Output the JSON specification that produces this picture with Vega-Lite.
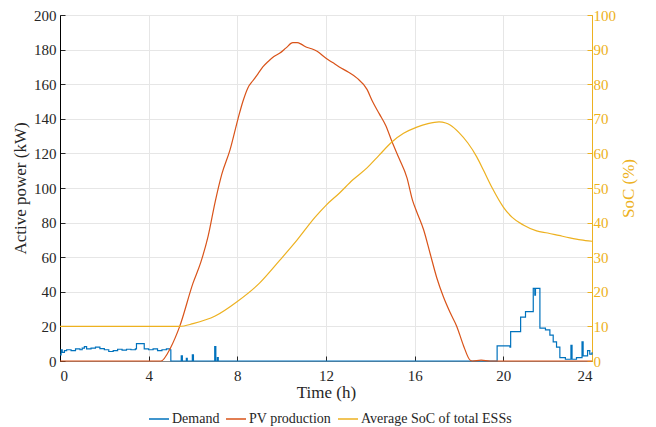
{
  "$schema": "https://vega.github.io/schema/vega-lite/v6.json",
  "autosize": {"type": "none"},
  "padding": {"left": 60, "top": 15, "right": 64, "bottom": 66},
  "width": 532,
  "height": 346,
  "background": "white",
  "config": {
    "font": "Liberation Serif",
    "style": {"guide-label": {"font": "Liberation Serif"}, "guide-title": {"font": "Liberation Serif"}},
    "view": {"stroke": "#262626", "strokeWidth": 1},
    "axis": {"labelFont": "Liberation Serif", "titleFont": "Liberation Serif", "labelFontSize": 15, "titleFontSize": 17, "titleFontWeight": "normal", "labelColor": "#262626", "titleColor": "#262626", "gridColor": "#e6e6e6", "gridWidth": 1, "tickSize": -5, "tickColor": "#262626", "labelOverlap": false},
    "legend": {"labelFont": "Liberation Serif", "labelFontSize": 14, "labelColor": "#262626"}
  },
  "datasets": {
    "demand": [
      {"t": 0, "value": 3.5}, {"t": 0.05, "value": 6.5}, {"t": 0.1, "value": 5}, {"t": 0.2, "value": 6}, {"t": 0.3, "value": 6.5}, {"t": 0.5, "value": 6}, {"t": 0.7, "value": 7}, {"t": 0.9, "value": 6.5}, {"t": 1.0, "value": 7.5}, {"t": 1.1, "value": 8.3}, {"t": 1.2, "value": 7}, {"t": 1.4, "value": 7.5}, {"t": 1.6, "value": 8}, {"t": 1.8, "value": 7.2}, {"t": 2.0, "value": 6.5}, {"t": 2.2, "value": 5.5}, {"t": 2.4, "value": 6}, {"t": 2.6, "value": 6.8}, {"t": 2.8, "value": 6.3}, {"t": 3.0, "value": 6.8}, {"t": 3.2, "value": 6.5}, {"t": 3.4, "value": 7}, {"t": 3.45, "value": 10}, {"t": 3.8, "value": 7}, {"t": 4.0, "value": 6.5}, {"t": 4.2, "value": 7}, {"t": 4.4, "value": 6}, {"t": 4.6, "value": 6.5}, {"t": 4.8, "value": 7}, {"t": 4.95, "value": 6.5},
      {"t": 5.0, "value": 0}, {"t": 5.47, "value": 3}, {"t": 5.52, "value": 0}, {"t": 5.7, "value": 1.5}, {"t": 5.74, "value": 0}, {"t": 5.97, "value": 3.5}, {"t": 6.02, "value": 0}, {"t": 6.98, "value": 8.3}, {"t": 7.03, "value": 0}, {"t": 7.1, "value": 2}, {"t": 7.14, "value": 0},
      {"t": 19.72, "value": 8.8}, {"t": 20.3, "value": 8}, {"t": 20.33, "value": 17}, {"t": 20.78, "value": 25.4}, {"t": 21.0, "value": 28.5}, {"t": 21.35, "value": 42}, {"t": 21.42, "value": 38}, {"t": 21.45, "value": 42}, {"t": 21.65, "value": 19}, {"t": 21.9, "value": 18}, {"t": 22.1, "value": 15}, {"t": 22.25, "value": 11}, {"t": 22.4, "value": 8}, {"t": 22.55, "value": 2}, {"t": 22.8, "value": 1}, {"t": 23.05, "value": 9}, {"t": 23.1, "value": 1}, {"t": 23.3, "value": 2}, {"t": 23.55, "value": 11}, {"t": 23.6, "value": 3}, {"t": 23.8, "value": 6}, {"t": 23.9, "value": 4}, {"t": 24, "value": 5}
    ],
    "pv": [
      {"t": 0, "value": 0}, {"t": 4.55, "value": 0}, {"t": 5.0, "value": 8}, {"t": 5.4, "value": 20}, {"t": 6.0, "value": 45}, {"t": 6.35, "value": 57}, {"t": 6.68, "value": 72}, {"t": 7.0, "value": 92}, {"t": 7.3, "value": 108}, {"t": 7.67, "value": 122}, {"t": 8.03, "value": 140}, {"t": 8.25, "value": 150}, {"t": 8.48, "value": 158}, {"t": 8.7, "value": 162}, {"t": 8.93, "value": 166}, {"t": 9.15, "value": 170}, {"t": 9.38, "value": 173}, {"t": 9.65, "value": 176}, {"t": 9.92, "value": 178}, {"t": 10.2, "value": 181}, {"t": 10.5, "value": 184}, {"t": 10.7, "value": 184}, {"t": 10.9, "value": 183}, {"t": 11.1, "value": 181.5}, {"t": 11.35, "value": 180.5}, {"t": 11.6, "value": 179}, {"t": 12.0, "value": 175}, {"t": 12.3, "value": 172.5}, {"t": 12.6, "value": 170}, {"t": 13.0, "value": 167}, {"t": 13.4, "value": 163.5}, {"t": 13.85, "value": 157}, {"t": 14.1, "value": 150}, {"t": 14.4, "value": 143}, {"t": 14.7, "value": 136}, {"t": 14.97, "value": 127}, {"t": 15.3, "value": 117}, {"t": 15.65, "value": 106}, {"t": 15.9, "value": 93}, {"t": 16.1, "value": 86}, {"t": 16.4, "value": 76}, {"t": 16.7, "value": 62}, {"t": 17.0, "value": 48}, {"t": 17.3, "value": 37}, {"t": 17.6, "value": 28}, {"t": 17.9, "value": 20}, {"t": 18.2, "value": 9}, {"t": 18.5, "value": 0.5}, {"t": 18.6, "value": 0}, {"t": 19.0, "value": 0.5}, {"t": 19.4, "value": 0}, {"t": 24, "value": 0}
    ],
    "soc": [
      {"t": 0, "value": 10}, {"t": 5.4, "value": 10}, {"t": 6.0, "value": 10.8}, {"t": 7.0, "value": 13}, {"t": 8.0, "value": 17.2}, {"t": 9.0, "value": 22.5}, {"t": 9.9, "value": 29}, {"t": 10.7, "value": 35}, {"t": 11.5, "value": 41.5}, {"t": 12.0, "value": 45}, {"t": 12.6, "value": 48.5}, {"t": 13.2, "value": 52.3}, {"t": 13.85, "value": 55.8}, {"t": 14.4, "value": 59.5}, {"t": 14.97, "value": 63.3}, {"t": 15.5, "value": 65.8}, {"t": 16.1, "value": 67.6}, {"t": 16.6, "value": 68.6}, {"t": 17.1, "value": 69.1}, {"t": 17.4, "value": 68.8}, {"t": 17.6, "value": 68.2}, {"t": 18.0, "value": 66}, {"t": 18.4, "value": 63}, {"t": 18.8, "value": 59}, {"t": 19.1, "value": 55.2}, {"t": 19.5, "value": 50}, {"t": 20.0, "value": 44.5}, {"t": 20.4, "value": 41.5}, {"t": 20.9, "value": 39.3}, {"t": 21.5, "value": 37.6}, {"t": 22, "value": 37}, {"t": 22.5, "value": 36.3}, {"t": 23, "value": 35.6}, {"t": 23.5, "value": 35}, {"t": 24, "value": 34.6}
    ]
  },
  "layer": [
    {
      "encoding": {
        "x": {"field": "t", "type": "quantitative", "scale": {"domain": [0, 24], "nice": false}, "axis": {"values": [0, 4, 8, 12, 16, 20, 24], "title": "Time (h)", "titlePadding": 1, "labelPadding": 12, "labelOverlap": false}},
        "y": {"field": "value", "type": "quantitative", "scale": {"domain": [0, 200], "nice": false}, "axis": {"values": [0, 20, 40, 60, 80, 100, 120, 140, 160, 180, 200], "title": "Active power (kW)", "titlePadding": 4, "labelPadding": 9, "domainColor": "#000000", "labelOverlap": false}}
      },
      "layer": [
        {
          "data": {"name": "demand"},
          "mark": {"type": "line", "interpolate": "step-after", "strokeWidth": 1.2},
          "encoding": {
            "color": {"datum": "Demand", "type": "nominal", "scale": {"domain": ["Demand", "PV production", "Average SoC of total ESSs"], "range": ["#0072BD", "#D95319", "#EDB120"]}, "legend": {"orient": "none", "legendX": 88, "legendY": 393, "direction": "horizontal", "title": null, "symbolType": "stroke", "symbolStrokeWidth": 1.5, "symbolSize": 400, "columnPadding": 3, "labelFontSize": 14, "labelOffset": 2}}
          }
        },
        {
          "data": {"name": "pv"},
          "mark": {"type": "line", "interpolate": "monotone", "strokeWidth": 1.2},
          "encoding": {
            "color": {"datum": "PV production", "type": "nominal"}
          }
        }
      ]
    },
    {
      "data": {"name": "soc"},
      "mark": {"type": "line", "interpolate": "monotone", "strokeWidth": 1.2},
      "encoding": {
        "x": {"field": "t", "type": "quantitative"},
        "y": {"field": "value", "type": "quantitative", "scale": {"domain": [0, 100], "nice": false}, "axis": {"orient": "right", "values": [0, 10, 20, 30, 40, 50, 60, 70, 80, 90, 100], "title": "SoC (%)", "titleAngle": 270, "titlePadding": 22, "labelPadding": 6, "grid": false, "domainColor": "#EDB120", "tickColor": "#EDB120", "labelColor": "#EDB120", "titleColor": "#EDB120", "labelOverlap": false}},
        "color": {"datum": "Average SoC of total ESSs", "type": "nominal"}
      }
    }
  ],
  "resolve": {"scale": {"y": "independent"}}
}
